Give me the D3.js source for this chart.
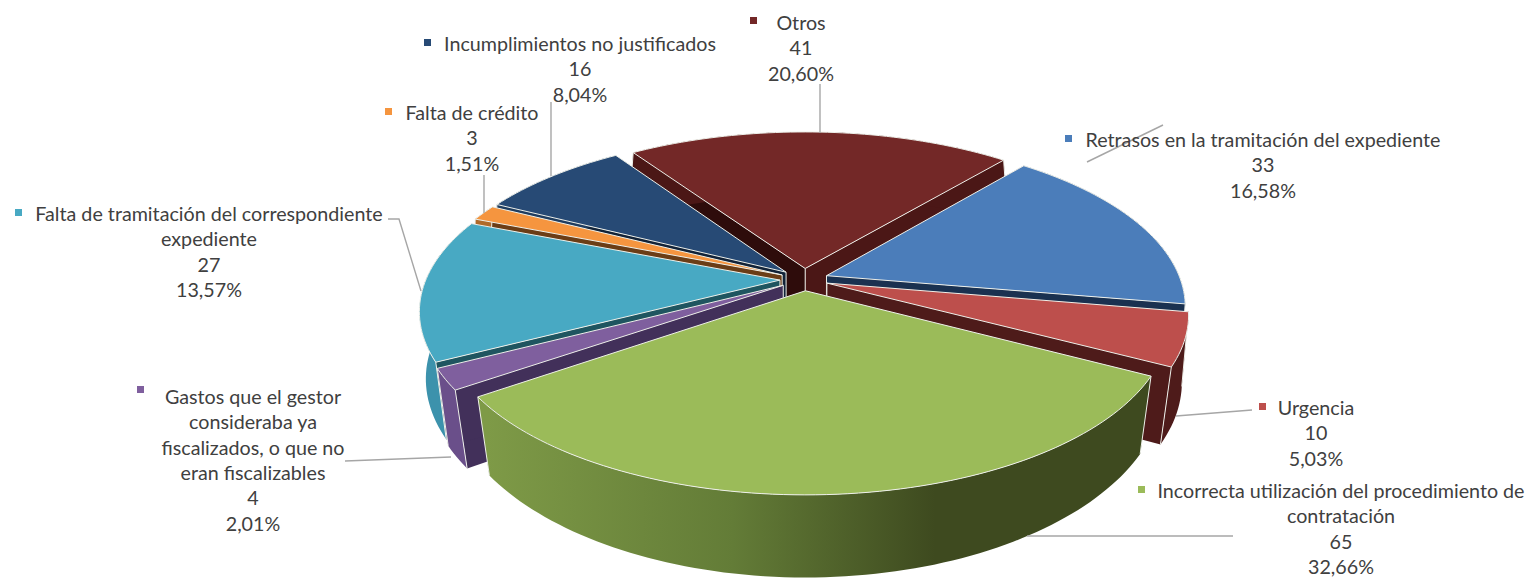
<!DOCTYPE html>
<html>
<head>
<meta charset="utf-8">
<script src="https://cdn.jsdelivr.net/npm/d3@7"></script>
<style>
  body { margin: 0; background: #fff; }
  text { font-family: Lato, sans-serif; font-size: 19.7px; fill: #404040; }
</style>
</head>
<body>
<svg id="chart" width="1529" height="579"></svg>
<script>
const categories = [
  'Retrasos en la tramitación del expediente',
  'Urgencia',
  'Incorrecta utilización del procedimiento de contratación',
  'Gastos que el gestor consideraba ya fiscalizados, o que no eran fiscalizables',
  'Falta de tramitación del correspondiente expediente',
  'Falta de crédito',
  'Incumplimientos no justificados',
  'Otros',
];
const values = [33, 10, 65, 4, 27, 3, 16, 41];

// wrapped category text, as the labels break it
const wrappedNames = [
  ['Retrasos en la tramitación del expediente'],
  ['Urgencia'],
  ['Incorrecta utilización del procedimiento de', 'contratación'],
  ['Gastos que el gestor', 'consideraba ya', 'fiscalizados, o que no', 'eran fiscalizables'],
  ['Falta de tramitación del correspondiente', 'expediente'],
  ['Falta de crédito'],
  ['Incumplimientos no justificados'],
  ['Otros'],
];

const topColors = ['#4b7dba', '#bd4f4c', '#9bbb59', '#7f5f9e', '#48a9c3', '#f5953f', '#274a75', '#732827'];
const startWallColors = ['#4b1716', '#4e1b1a', '#3e4a1f', '#42305a', '#1f5560', '#6b3d16', '#122338', '#2e0c0b'];
const endWallColors = ['#1a3150', '#4e1b1a', '#3e4a1f', '#42305a', '#1f5560', '#6b3d16', '#122338', '#4b1716'];
const outerColors = ['#1a3150', '#4e1b1a', 'url(#greenSide)', '#6a4f8a', '#3c92ac', '#b06a2a', '#1f3d60', '#4b1716'];

// label placement: text centre, first line centre, key square, leader
const labelX = [1263, 1316, 1341, 253, 209, 472, 580, 801];
const labelY = [140, 408, 491, 397, 214, 113, 44, 23];
const keyPos = [[1065, 135], [1259, 403], [1138, 486], [137, 386], [15, 209], [385, 108], [424, 39], [750, 17]];
const leaders = [
  [[1087, 162], [1163, 125]],
  [[1176, 416], [1252, 410]],
  [[1027, 536], [1233, 536]],
  [[345, 461], [451, 457]],
  [[388, 219], [399, 219], [421, 291]],
  [[484, 175], [484, 213]],
  [[551, 102], [551, 176]],
  [[820, 84], [820, 133]],
];

const width = 1529;
const height = 579;
const lineGap = 25.3;

// pie plane to screen, a weak perspective
const cx = 804;
const cy = 279.5;
const rx = 354;
const ry = 164;
const persp = 0.175;
const explode = 0.068;

const project = ([px, py]) => {
  const w = 1 - persp * py;
  return [cx + (rx * px) / w, cy + (ry * py) / w];
};
const drop = ([px, py]) => {
  const [sx, sy] = project([px, py]);
  return [cx + (sx - cx) * (0.99 - 0.04 * py), sy + 73 + 9 * py];
};

const svg = d3.select('#chart');
const defs = svg.append('defs');
const grad = defs.append('linearGradient')
  .attr('id', 'greenSide')
  .attr('gradientUnits', 'userSpaceOnUse')
  .attr('x1', 487).attr('x2', 935)
  .attr('y1', 0).attr('y2', 0);
grad.append('stop').attr('offset', '0%').attr('stop-color', '#7e9a47');
grad.append('stop').attr('offset', '55%').attr('stop-color', '#637c37');
grad.append('stop').attr('offset', '100%').attr('stop-color', '#3e4a1f');

const pie = d3.pie()
  .sort(null)
  .startAngle((40 * Math.PI) / 180)
  .endAngle((400 * Math.PI) / 180);

const line = d3.line();
const closed = (pts) => `${line(pts)}Z`;

const slices = pie(values).map((d, i) => {
  const mid = (d.startAngle + d.endAngle) / 2;
  const ox = explode * Math.sin(mid);
  const oy = -explode * Math.cos(mid);
  const steps = Math.max(4, Math.ceil((d.endAngle - d.startAngle) * 40));
  const rim = d3.range(steps + 1).map((k) => {
    const a = d.startAngle + ((d.endAngle - d.startAngle) * k) / steps;
    return [ox + Math.sin(a), oy - Math.cos(a)];
  });
  return {
    i, mid, apex: [ox, oy], rim,
  };
});

// far slices first, so the near ones cover them
const order = slices.slice().sort((a, b) => d3.descending(Math.cos(a.mid), Math.cos(b.mid)));

const edge = '#eef0ea';
const g = svg.append('g');

order.forEach((s) => {
  const slice = g.append('g').attr('class', 'slice');
  const first = s.rim[0];
  const last = s.rim[s.rim.length - 1];

  slice.append('path')
    .attr('d', closed([project(s.apex), project(first), drop(first), drop(s.apex)]))
    .attr('fill', startWallColors[s.i]);
  slice.append('path')
    .attr('d', closed([project(s.apex), project(last), drop(last), drop(s.apex)]))
    .attr('fill', endWallColors[s.i]);
  slice.append('path')
    .attr('d', closed([...s.rim.map(project), ...s.rim.slice().reverse().map(drop)]))
    .attr('fill', outerColors[s.i]);

  [s.apex, first, last].forEach((p) => {
    slice.append('path')
      .attr('d', line([project(p), drop(p)]))
      .attr('stroke', edge)
      .attr('stroke-width', 1);
  });

  slice.append('path')
    .attr('d', closed([project(s.apex), ...s.rim.map(project)]))
    .attr('fill', topColors[s.i])
    .attr('stroke', edge)
    .attr('stroke-width', 1)
    .attr('stroke-linejoin', 'round');
});

// leaders
svg.append('g').selectAll('path')
  .data(leaders)
  .join('path')
  .attr('d', (d) => line(d))
  .attr('fill', 'none')
  .attr('stroke', '#a6a6a6')
  .attr('stroke-width', 1.4);

// labels
const total = d3.sum(values);
const esFormat = d3.formatLocale({
  decimal: ',', thousands: '.', grouping: [3], currency: ['', '€'],
}).format('.2f');

const labels = svg.append('g').selectAll('g')
  .data(categories)
  .join('g');

labels.append('rect')
  .attr('x', (d, i) => keyPos[i][0])
  .attr('y', (d, i) => keyPos[i][1])
  .attr('width', 7)
  .attr('height', 7)
  .attr('fill', (d, i) => topColors[i]);

labels.each(function (d, i) {
  const rows = [...wrappedNames[i], `${values[i]}`, `${esFormat((values[i] / total) * 100)}%`];
  d3.select(this).selectAll('text')
    .data(rows)
    .join('text')
    .attr('x', labelX[i])
    .attr('y', (r, k) => labelY[i] + k * lineGap + 7)
    .attr('text-anchor', 'middle')
    .text((r) => r);
});
</script>
</body>
</html>
